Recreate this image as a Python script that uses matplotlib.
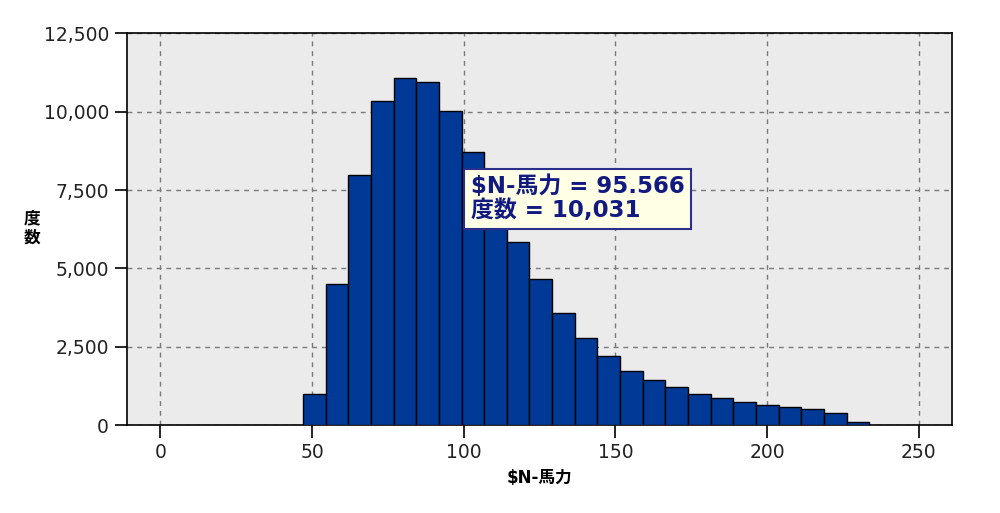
import matplotlib
matplotlib.use("Agg")
import matplotlib.pyplot as plt
import numpy as np

# histogram data
bin_start = 47.0
bin_width = 7.47
counts = [980, 4500, 7970, 10330, 11080, 10960, 10031, 8720, 7150, 5830,
          4670, 3570, 2770, 2200, 1730, 1430, 1205, 980, 855, 745,
          630, 565, 500, 395, 110]

x_ticks = [0, 50, 100, 150, 200, 250]
y_ticks = [0, 2500, 5000, 7500, 10000, 12500]

tip_value = 95.566
tip_count = 10031

plt.rcParams['font.family'] = ['DejaVu Sans', 'Noto Sans CJK JP']

fig = plt.figure(figsize=(10, 5.13), dpi=100)
ax = fig.add_axes([0.127, 0.1715, 0.825, 0.7635])
ax.set_facecolor("#ebebeb")

lefts = bin_start + bin_width * np.arange(len(counts))
ax.bar(lefts, counts, width=bin_width, align="edge",
       color="#003a96", edgecolor="#000000", linewidth=1.0, zorder=3)

ax.set_xlim(-11, 261)
ax.set_ylim(0, 12500)
ax.set_xticks(x_ticks)
ax.set_yticks(y_ticks)
ax.set_yticklabels([f"{v:,}" for v in y_ticks])

ax.grid(True, color="#7a7a7a", linestyle=(0, (3.5, 3.5)), linewidth=1.0, zorder=1)
ax.tick_params(direction="out", length=9, width=1.2, labelsize=13.5,
               colors="#000000", labelcolor="#222222", pad=4)
for s in ax.spines.values():
    s.set_linewidth(1.2)
    s.set_color("#000000")

ax.set_xlabel("$N-馬力", fontsize=12, fontweight="bold", labelpad=5)
fig.text(0.032, 0.555, "度\n数", fontsize=12, fontweight="bold",
         ha="center", va="center", linespacing=1.1)

ax.text(102.3, 7225,
        f"$N-馬力 = {tip_value}\n度数 = {tip_count:,}",
        fontsize=16.5, fontweight="bold", color="#111a80",
        ha="left", va="center", linespacing=1.08, zorder=5,
        bbox=dict(boxstyle="square,pad=0.27", facecolor="#ffffe6",
                  edgecolor="#2a2f8c", linewidth=1.5))

fig.savefig("out.png", dpi=100)
